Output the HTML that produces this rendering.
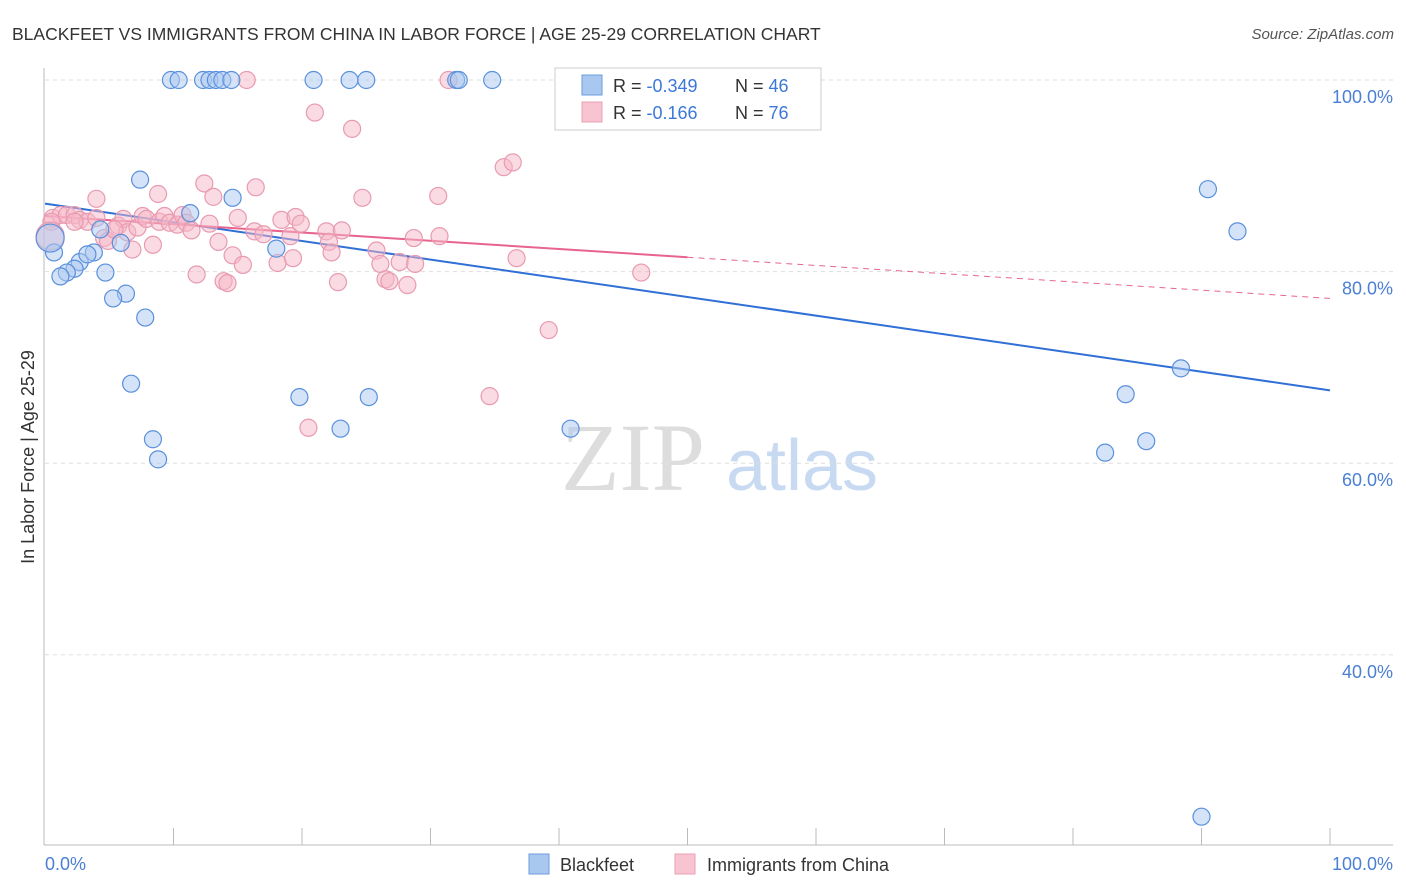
<!DOCTYPE html>
<html><head><meta charset="utf-8"><style>
body{margin:0;background:#fff;font-family:"Liberation Sans",sans-serif}
svg{display:block}
</style></head><body>
<svg width="1406" height="892" viewBox="0 0 1406 892">
<text x="12" y="40" font-size="17.5" fill="#333">BLACKFEET VS IMMIGRANTS FROM CHINA IN LABOR FORCE | AGE 25-29 CORRELATION CHART</text>
<text x="1394" y="39" font-size="15" fill="#555" font-style="italic" text-anchor="end">Source: ZipAtlas.com</text>
<g>
<text x="633" y="490" font-family="Liberation Serif,serif" font-size="96" fill="#ddd" text-anchor="middle">ZIP</text>
<text x="802" y="490" font-size="72" fill="#c8daf2" text-anchor="middle">atlas</text>
</g>
<g id="grid"></g>
<g id="axes"></g>
<g id="lines"></g>
<g id="points"></g>
<text transform="translate(34,457) rotate(-90)" font-size="18" fill="#333" text-anchor="middle">In Labor Force | Age 25-29</text>
<text x="45" y="870" font-size="18" fill="#4a7fd4">0.0%</text>
<text x="1393" y="870" font-size="18" fill="#4a7fd4" text-anchor="end">100.0%</text>
<g>
<rect x="555" y="68" width="266" height="62" fill="#fff" stroke="#ccc"/>
<rect x="582" y="75" width="20" height="20" fill="#a9c8f0" stroke="#6b9de0"/>
<rect x="582" y="102" width="20" height="20" fill="#f8c4d2" stroke="#e8a0b4"/>
<text x="613" y="92" font-size="18" fill="#333">R = <tspan fill="#3c78d8">-0.349</tspan><tspan x="735">N = </tspan><tspan fill="#3c78d8">46</tspan></text>
<text x="613" y="119" font-size="18" fill="#333">R = <tspan fill="#3c78d8"> -0.166</tspan><tspan x="735">N = </tspan><tspan fill="#3c78d8">76</tspan></text>
</g>
<g>
<rect x="529" y="854" width="20" height="20" fill="#a9c8f0" stroke="#6b9de0"/>
<text x="560" y="871" font-size="18" fill="#333">Blackfeet</text>
<rect x="675" y="854" width="20" height="20" fill="#f8c4d2" stroke="#e8a0b4"/>
<text x="707" y="871" font-size="18" fill="#333">Immigrants from China</text>
</g>
</svg>
<script>
const yTicks=[100,80,60,40];
const yTickLabels=["100.0%","80.0%","60.0%","40.0%"];
const xTicks=[10,20,30,40,50,60,70,80,90,100];
const blueX=[9.8,10.4,12.3,12.8,13.3,13.8,14.5,20.9,23.7,25.0,32.0,32.2,34.8,43.5,7.4,14.6,11.3,4.3,5.9,18.0,0.7,2.7,3.8,3.3,2.3,1.7,1.2,4.7,6.3,5.3,7.8,6.7,19.8,25.2,8.4,23.0,40.9,8.8,90.5,92.8,88.4,84.1,85.7,82.5,90.0,0.4];
const blueY=[100,100,100,100,100,100,100,100,100,100,100,100,100,100,89.6,87.7,86.1,84.4,83.0,82.4,82.0,81.0,82.0,81.8,80.3,79.9,79.5,79.9,77.7,77.2,75.2,68.3,66.9,66.9,62.5,63.6,63.6,60.4,88.6,84.2,69.9,67.2,62.3,61.1,23.1,83.5];
const pinkX=[0.6,1.2,1.7,2.3,2.7,3.3,4.0,0.5,4.0,4.6,4.9,5.7,6.1,6.4,6.8,7.2,7.6,7.9,8.4,8.8,8.9,9.3,9.7,10.3,10.7,11.0,11.4,11.8,12.4,12.8,13.1,13.5,13.9,14.2,14.6,15.0,15.4,15.7,16.3,16.4,17.0,18.1,18.4,19.1,19.3,19.5,19.9,21.0,21.9,22.1,22.3,22.8,23.1,23.9,24.7,25.8,26.1,26.5,26.8,27.6,28.2,28.7,28.8,30.6,30.7,31.4,35.7,36.4,36.7,34.6,39.2,46.4,20.5,0.4,2.3,5.4];
const pinkY=[85.6,85.9,85.9,85.9,85.4,85.2,85.6,85.2,87.6,83.5,83.2,84.8,85.5,84.1,82.3,84.6,85.8,85.5,82.8,88.1,85.2,85.8,85.1,84.9,85.9,85.1,84.3,79.7,89.2,85.0,87.8,83.1,79.0,78.8,81.7,85.6,80.7,100,84.2,88.8,83.9,80.9,85.4,83.7,81.4,85.7,85.0,96.6,84.2,83.1,82.0,78.9,84.3,94.9,87.7,82.2,80.8,79.2,79.0,81.0,78.6,83.5,80.8,87.9,83.7,100,90.9,91.4,81.4,67.0,73.9,79.9,63.7,83.7,85.2,84.4];
const blueTrend=[87.1,67.6];
const pinkTrend=[85.8,77.2];
const NS="http://www.w3.org/2000/svg";
const sx=v=>45+v*12.85, sy=v=>1038-v*9.58;
function mk(t,a,p){const e=document.createElementNS(NS,t);for(const k in a)e.setAttribute(k,a[k]);p.appendChild(e);return e;}
const grid=document.getElementById('grid'),axes=document.getElementById('axes'),lines=document.getElementById('lines'),pts=document.getElementById('points');
yTicks.forEach((v,i)=>{
 const l=mk('line',{x1:45,x2:1393,y1:sy(v),y2:sy(v),stroke:'#ddd','stroke-dasharray':'4,4'},grid);
 
 
 const t=mk('text',{x:1393,y:sy(v)+23,'font-size':18,fill:'#4a7fd4','text-anchor':'end'},grid);
 t.textContent=yTickLabels[i];
 
 
});
let a=mk('line',{x1:44,x2:44,y1:68,y2:845,stroke:'#bbb'},axes);


a=mk('line',{x1:44,x2:1393,y1:845,y2:845,stroke:'#bbb'},axes);


xTicks.forEach(v=>{
 const t=mk('line',{x1:sx(v),x2:sx(v),y1:828,y2:845,stroke:'#bbb'},axes);
 
 
});
function dot(x,y,r,f,s){const c=mk('circle',{cx:sx(x),cy:sy(y),r:r,fill:f,'fill-opacity':0.5,stroke:s,'stroke-width':1.2},pts);return c;}
pinkX.forEach((x,i)=>{
 const c=dot(x,pinkY[i],i>=73&&i==73?14:8.5,'#f5b8c8','#e89ab0');
 
 
});
blueX.forEach((x,i)=>{
 const c=dot(x,blueY[i],i==45?14:8.5,'#a9c8f0','#5a90dc');
 
 
});
const py=x=>pinkTrend[0]+(pinkTrend[1]-pinkTrend[0])*x/100;
const by=x=>blueTrend[0]+(blueTrend[1]-blueTrend[0])*x/100;
let l=mk('line',{x1:sx(0),y1:sy(by(0)),x2:sx(100),y2:sy(by(100)),stroke:'#2f6fd6','stroke-width':2},lines);


l=mk('line',{x1:sx(0),y1:sy(py(0)),x2:sx(50),y2:sy(py(50)),stroke:'#e8648e','stroke-width':2},lines);


l=mk('line',{x1:sx(50),y1:sy(py(50)),x2:sx(100),y2:sy(py(100)),stroke:'#e8648e','stroke-width':1,'stroke-dasharray':'6,5'},lines);


</script>
</body></html>
